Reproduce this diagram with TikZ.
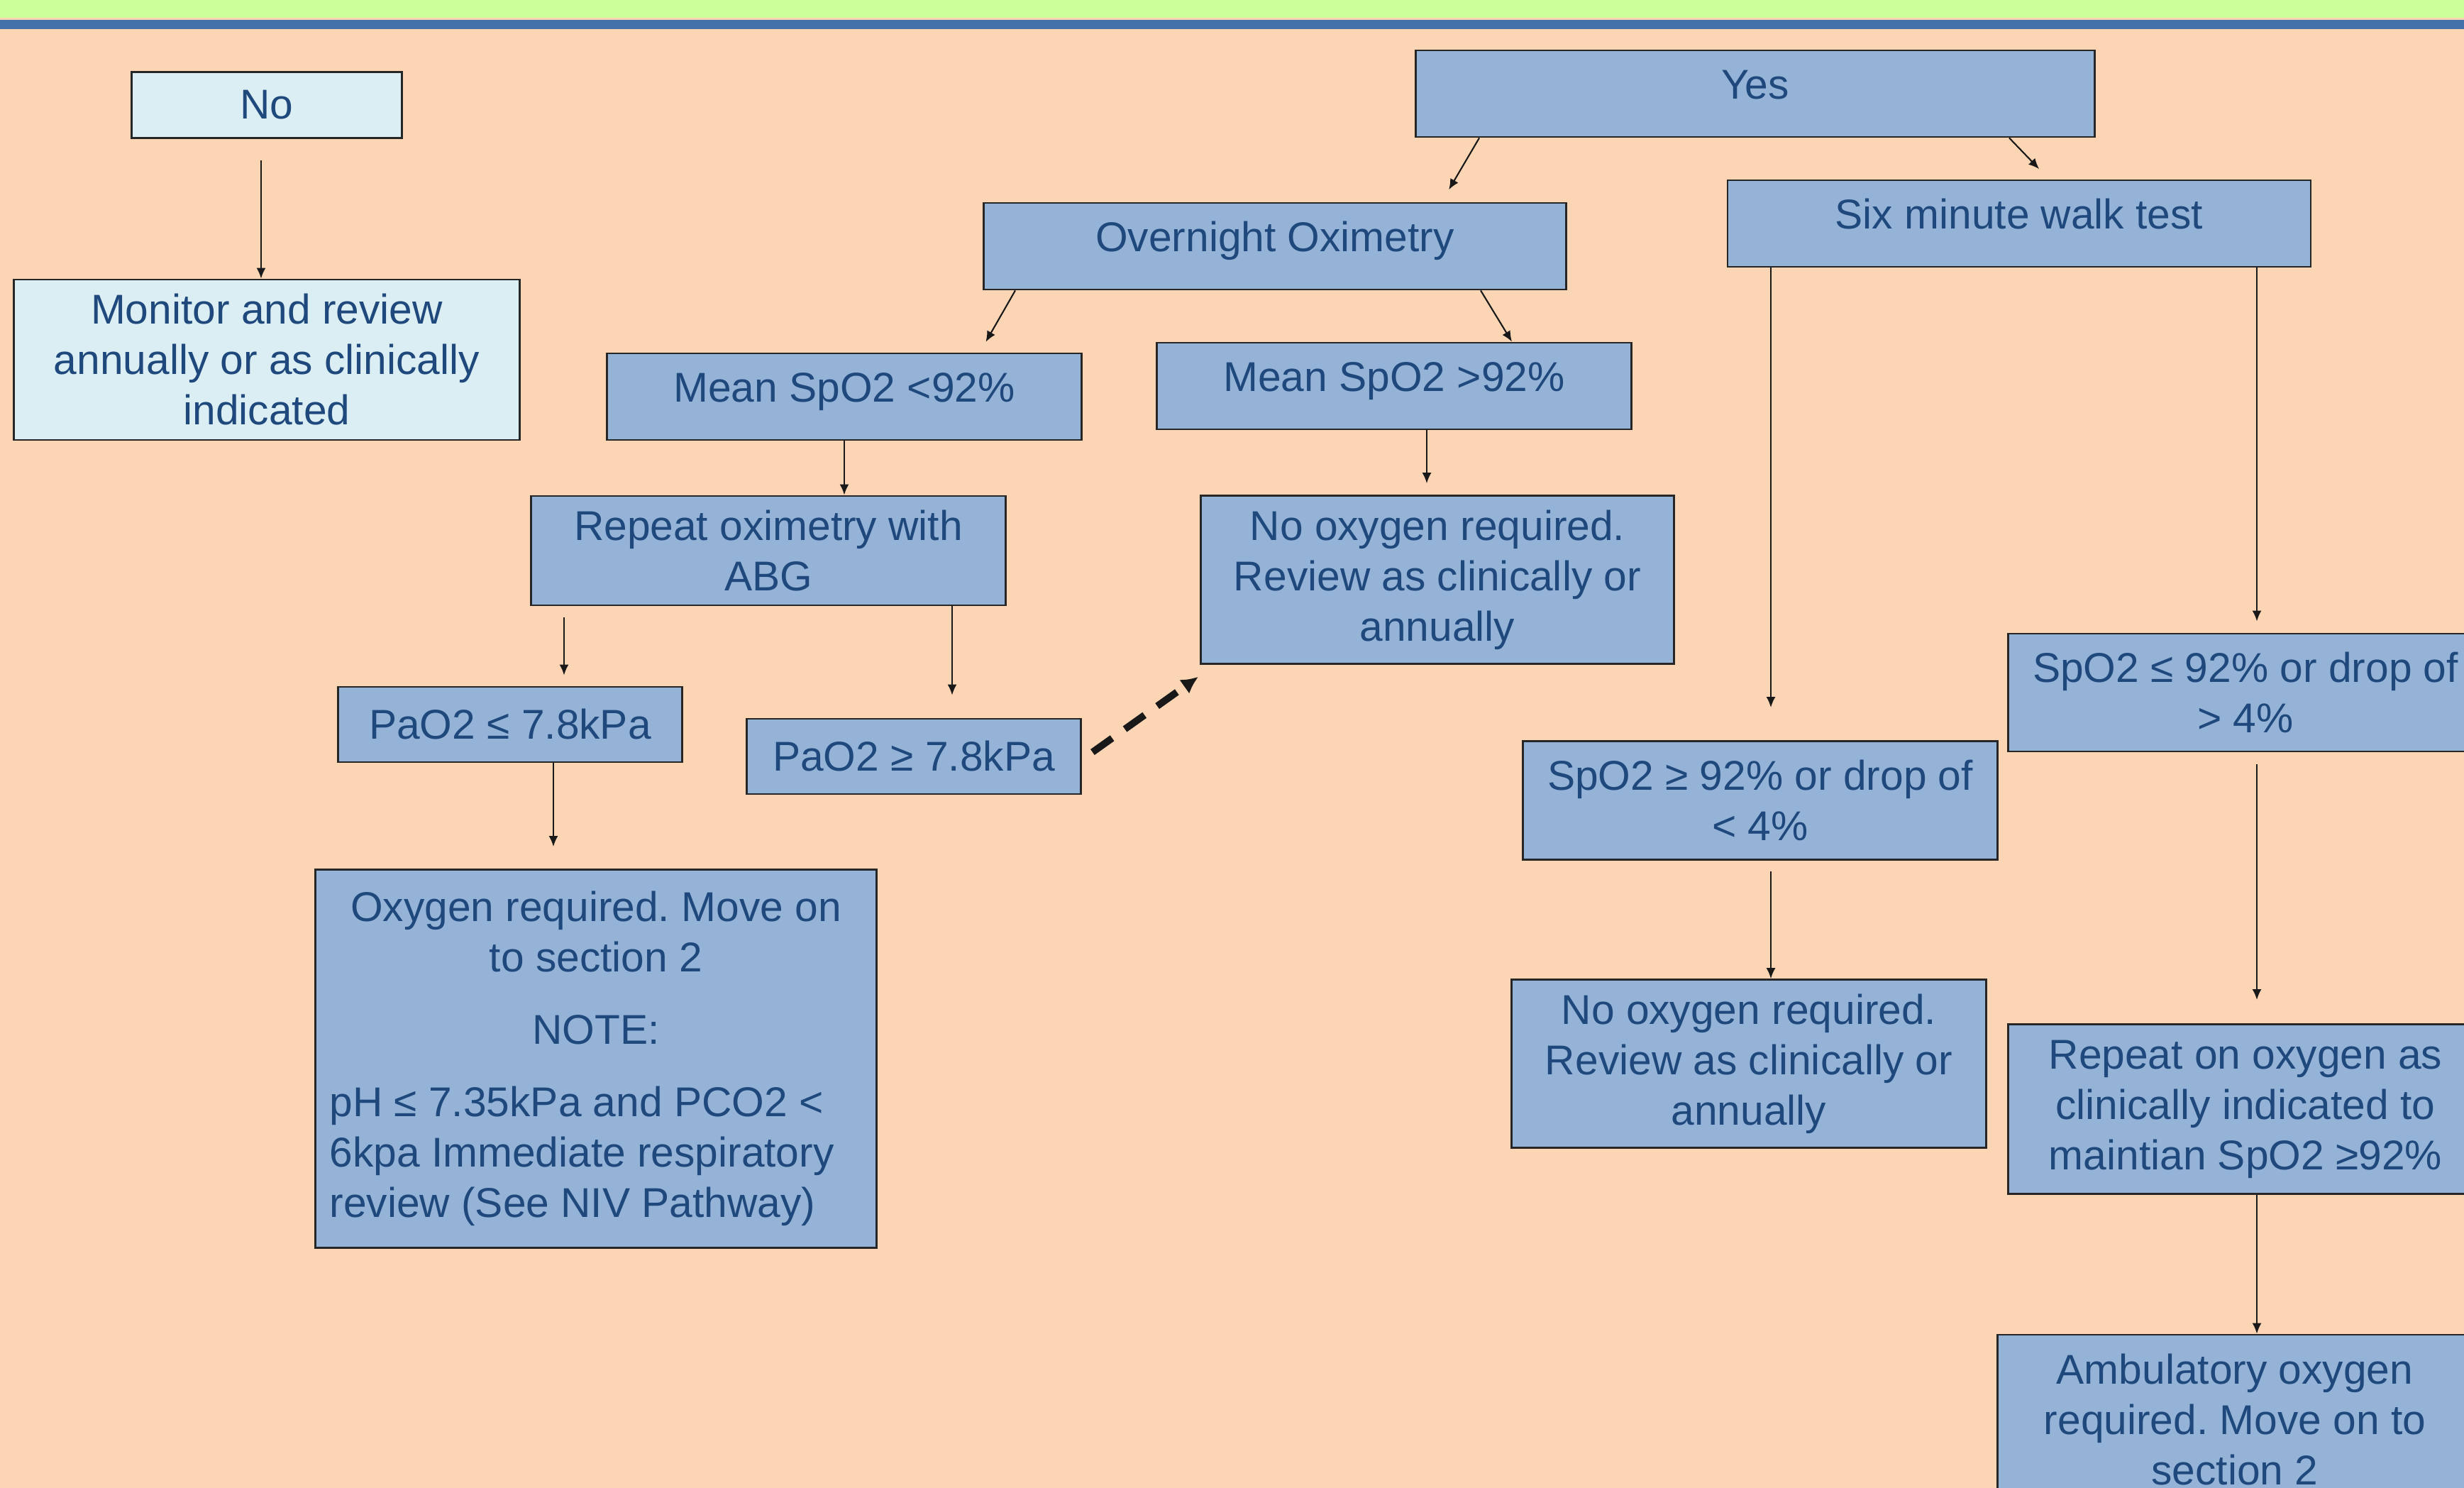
\documentclass[tikz,border=0pt]{standalone}
\usepackage{fontspec}
\setmainfont{Liberation Sans}
\usetikzlibrary{arrows.meta}
\definecolor{peach}{HTML}{FCD5B4}
\definecolor{boxblue}{HTML}{95B3D7}
\definecolor{paleblue}{HTML}{DAEEF3}
\definecolor{inkblue}{HTML}{1F497D}
\definecolor{bandgreen}{HTML}{CCFF99}
\definecolor{bandblue}{HTML}{4372AA}
\begin{document}
\begin{tikzpicture}[
  box/.style={draw=black!85,line width=0.8pt,fill=boxblue,text=inkblue,align=center,inner sep=0.2cm,
    font=\fontsize{16.7}{20.2}\selectfont\frenchspacing},
  lift/.style={text height=0.45cm,text depth=0.29cm},
  arr/.style={-{Latex[length=1.5mm,width=1.3mm]},line width=0.6pt,black!90},
  jump/.style={-{Latex[length=2.4mm,width=2.4mm]},line width=2.8pt,dash pattern=on 3.4mm off 2.2mm,black!90}]
\clip (0,0) rectangle (34.73,-20.97);
\fill[peach] (0,0) rectangle (34.73,-20.97);
\fill[bandgreen] (0,0) rectangle (34.73,-0.25);
\fill[bandblue] (0,-0.28) rectangle (34.73,-0.41);
\node[box,fill=paleblue,minimum width=3.81cm,minimum height=0.93cm] (no) at (3.76,-1.48) {No};
\node[box,fill=paleblue,minimum width=7.13cm,minimum height=2.26cm] (monitor) at (3.76,-5.07) {Monitor and review\\annually or as clinically\\indicated};
\node[box,lift,minimum width=9.57cm,minimum height=1.22cm] (yes) at (24.74,-1.32) {Yes};
\node[box,lift,minimum width=8.22cm,minimum height=1.22cm] (six) at (28.46,-3.15) {Six minute walk test};
\node[box,lift,minimum width=8.21cm,minimum height=1.22cm] (overnight) at (17.97,-3.47) {Overnight Oximetry};
\node[box,lift,minimum width=6.69cm,minimum height=1.22cm] (meanlow) at (11.90,-5.59) {Mean SpO2 <92\%};
\node[box,lift,minimum width=6.69cm,minimum height=1.22cm] (meanhigh) at (19.65,-5.44) {Mean SpO2 >92\%};
\node[box,minimum width=6.69cm,minimum height=1.50cm] (repeat) at (10.83,-7.76) {Repeat oximetry with\\ABG};
\node[box,minimum width=6.67cm,minimum height=2.26cm] (nooxa) at (20.26,-8.17) {No oxygen required.\\Review as clinically or\\annually};
\node[box,minimum width=4.85cm,minimum height=1.06cm] (paolow) at (7.19,-10.21) {PaO2 ≤ 7.8kPa};
\node[box,minimum width=4.71cm,minimum height=1.06cm] (paohigh) at (12.88,-10.66) {PaO2 ≥ 7.8kPa};
\node[box,minimum height=5.33cm] (oxygen) at (8.40,-14.92) {Oxygen required. Move on\\to section 2\\[0.31cm]NOTE:\\[0.31cm]%
  \makebox[7.51cm][l]{pH ≤ 7.35kPa and PCO2 <}\\\makebox[7.51cm][l]{6kpa Immediate respiratory}\\\makebox[7.51cm][l]{review (See NIV Pathway)}};
\node[box,minimum width=6.69cm,minimum height=1.67cm] (spohigh) at (24.81,-11.28) {SpO2 ≥ 92\% or drop of\\< 4\%};
\node[box,minimum width=6.69cm,minimum height=1.66cm] (spolow) at (31.65,-9.76) {SpO2 ≤ 92\% or drop of\\> 4\%};
\node[box,minimum width=6.69cm,minimum height=2.26cm] (nooxb) at (24.65,-14.99) {No oxygen required.\\Review as clinically or\\annually};
\node[box,minimum width=6.69cm,minimum height=2.39cm] (repeatox) at (31.65,-15.63) {Repeat on oxygen as\\clinically indicated to\\maintian SpO2 ≥92\%};
\node[box,minimum width=6.69cm,minimum height=2.40cm] (ambul) at (31.50,-20.01) {Ambulatory oxygen\\required. Move on to\\section 2};
\draw[arr,shorten <=3mm] ([xshift=-.08cm]no.south) -- ([xshift=-.08cm]monitor.north);
\draw[arr,shorten >=2mm] ([xshift=-3.89cm]yes.south) -- ([xshift=2.35cm]overnight.north);
\draw[arr,shorten >=2mm] ([xshift=3.58cm]yes.south) -- ([xshift=.42cm]six.north);
\draw[arr,shorten >=1.7mm] ([xshift=-3.66cm]overnight.south) -- ([xshift=1.91cm]meanlow.north);
\draw[arr] ([xshift=2.90cm]overnight.south) -- ([xshift=1.66cm]meanhigh.north);
\draw[arr] (meanlow.south) -- (meanlow.south |- repeat.north);
\draw[arr,shorten >=1.6mm] ([xshift=.46cm]meanhigh.south) -- ([xshift=.46cm]meanhigh.south |- nooxa.north);
\draw[arr,shorten <=1.6mm,shorten >=1.5mm] ([xshift=-2.88cm]repeat.south) -- ([xshift=-2.88cm]repeat.south |- paolow.north);
\draw[arr,shorten >=3.2mm] ([xshift=2.59cm]repeat.south) -- ([xshift=2.59cm]repeat.south |- paohigh.north);
\draw[arr,shorten >=3.1mm] ([xshift=.61cm]paolow.south) -- ([xshift=.61cm]paolow.south |- oxygen.north);
\draw[jump] ([xshift=.15cm,yshift=.06cm]paohigh.east) -- ([xshift=-.02cm,yshift=-.17cm]nooxa.south west);
\draw[arr,shorten >=4.6mm] ([xshift=-3.50cm]six.south) -- ([xshift=-3.50cm]six.south |- spohigh.north);
\draw[arr,shorten >=1.6mm] ([xshift=3.35cm]six.south) -- ([xshift=3.35cm]six.south |- spolow.north);
\draw[arr,shorten <=1.5mm] ([xshift=.15cm]spohigh.south) -- ([xshift=.15cm]spohigh.south |- nooxb.north);
\draw[arr,shorten <=1.7mm,shorten >=3.3mm] ([xshift=.16cm]spolow.south) -- ([xshift=.16cm]spolow.south |- repeatox.north);
\draw[arr] ([xshift=.16cm]repeatox.south) -- ([xshift=.16cm]repeatox.south |- ambul.north);
\end{tikzpicture}
\end{document}
